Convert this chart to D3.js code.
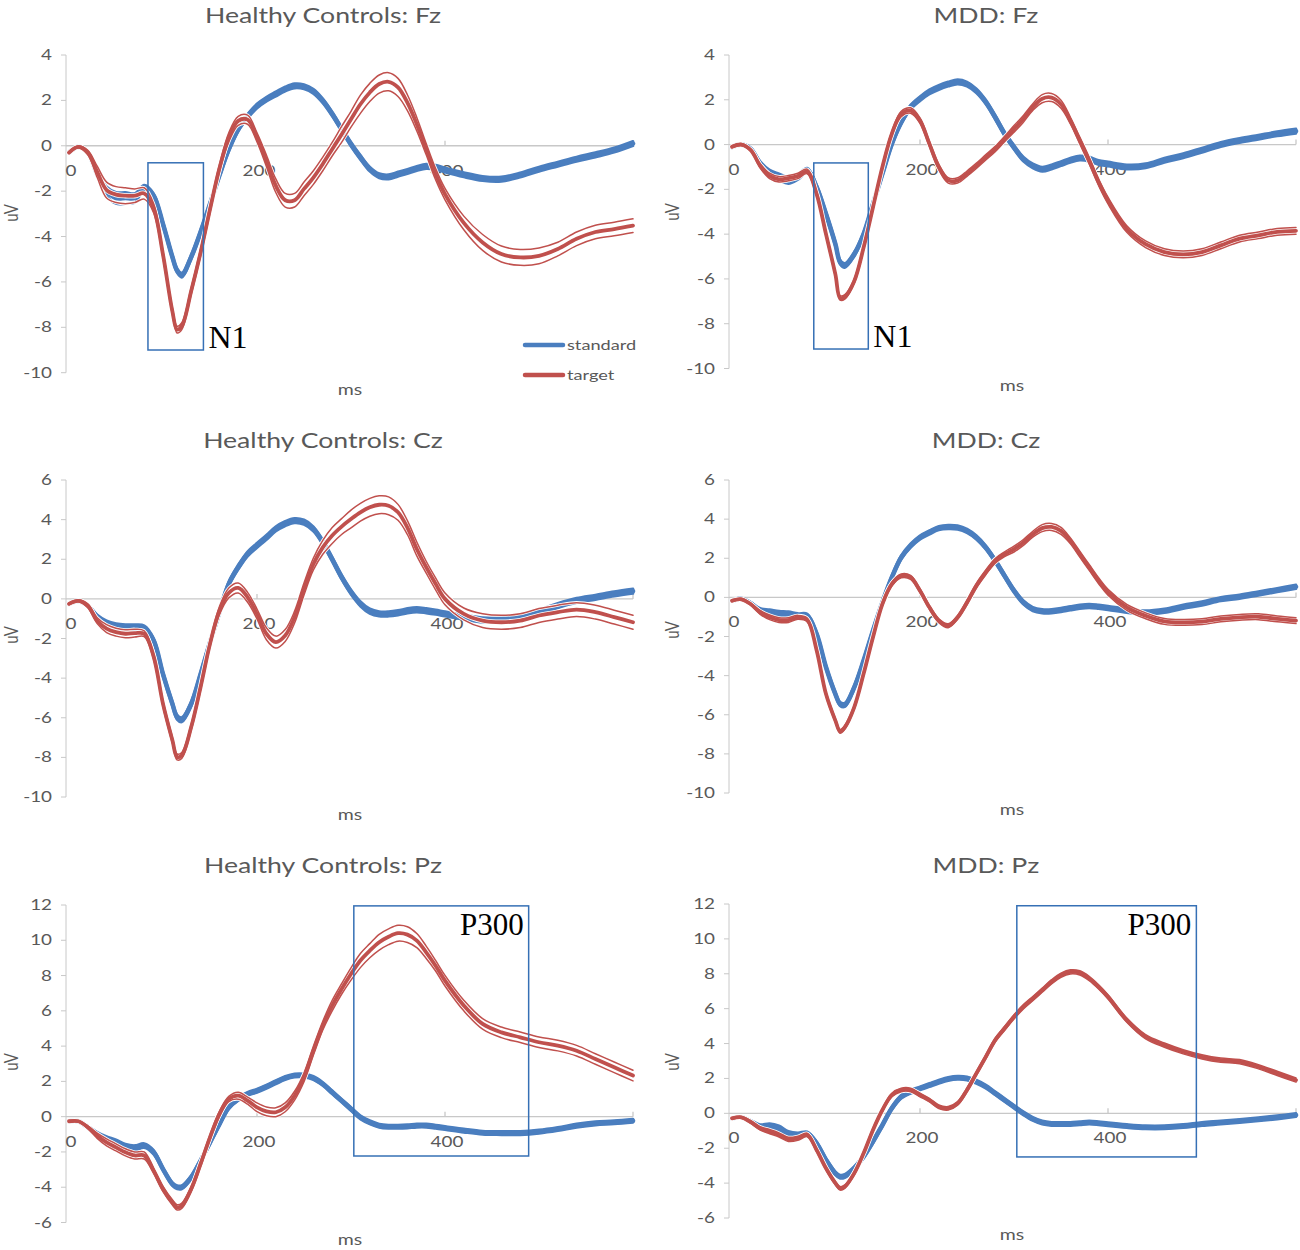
<!DOCTYPE html>
<html><head><meta charset="utf-8">
<script src="https://cdn.jsdelivr.net/npm/d3@7"></script>
<style>body{margin:0;background:#fff}</style>
</head><body><svg id="c" width="1300" height="1250"></svg>
<script>
// ---------- DATA ----------
const timeMs = [0,10,20,30,40,50,60,70,80,90,100,110,115,
  120,130,140,150,160,170,180,190,200,210,220,230,240,
  250,260,270,280,290,300,310,320,330,340,350,360,370,
  380,390,400,420,440,460,480,500,520,540,560,580,600];
const xTickLabels = [0,200,400];
const xTickMarks = [200,400,600];
const seriesNames = ["standard","target"];
const panelTitles = ["Healthy Controls: Fz","MDD: Fz","Healthy Controls: Cz","MDD: Cz","Healthy Controls: Pz","MDD: Pz"];
const yTicksFz = [4,2,0,-2,-4,-6,-8,-10];
const yTicksCz = [6,4,2,0,-2,-4,-6,-8,-10];
const yTicksPz = [12,10,8,6,4,2,0,-2,-4,-6];

// Healthy Controls Fz
const hcFzStd = [-0.3,-0.05,-0.3,-1.25,-2.0,-2.3,-2.3,-2.3,-1.85,-2.2,-3.45,-4.9,-5.5,
  -5.7,-4.9,-3.8,-2.57,-1.3,-0.15,0.73,1.3,1.75,2.05,2.28,2.5,2.64,
  2.6,2.4,1.98,1.4,0.73,0.07,-0.51,-1.03,-1.32,-1.37,-1.25,-1.13,-1.0,
  -0.91,-0.95,-1.07,-1.28,-1.44,-1.47,-1.29,-1.03,-0.81,-0.59,-0.4,-0.19,0.1];
const hcFzStdSe = [0.05,0.05,0.05,0.1,0.2,0.25,0.25,0.2,0.12,0.1,0.1,0.1,0.1,
  0.1,0.1,0.1,0.1,0.1,0.1,0.1,0.1,0.1,0.1,0.1,0.1,0.1,
  0.1,0.1,0.1,0.1,0.1,0.1,0.1,0.1,0.1,0.1,0.1,0.1,0.1,
  0.1,0.1,0.1,0.1,0.1,0.1,0.1,0.1,0.1,0.1,0.1,0.1,0.1];
const hcFzTgt = [-0.3,-0.05,-0.3,-1.15,-1.95,-2.15,-2.2,-2.2,-2.1,-2.75,-4.8,-7.3,-8.1,
  -7.95,-6.4,-4.7,-2.8,-1.0,0.37,1.1,1.15,0.37,-0.66,-1.76,-2.4,-2.4,
  -1.9,-1.4,-0.8,-0.15,0.5,1.17,1.83,2.35,2.72,2.82,2.57,1.9,0.95,
  -0.15,-1.25,-2.13,-3.4,-4.26,-4.77,-4.92,-4.85,-4.55,-4.1,-3.8,-3.67,-3.52];
const hcFzTgtSe = [0.05,0.05,0.1,0.25,0.35,0.35,0.35,0.3,0.25,0.2,0.15,0.15,0.15,
  0.15,0.15,0.15,0.15,0.15,0.2,0.2,0.2,0.2,0.25,0.3,0.3,0.3,
  0.3,0.3,0.3,0.3,0.35,0.35,0.4,0.4,0.4,0.4,0.4,0.35,0.3,
  0.25,0.25,0.25,0.3,0.35,0.35,0.35,0.35,0.3,0.3,0.3,0.3,0.3];

// MDD Fz
const mddFzStd = [-0.1,0.0,-0.2,-0.85,-1.25,-1.45,-1.6,-1.45,-1.15,-1.9,-3.1,-4.45,-5.25,
  -5.4,-4.9,-4.0,-2.65,-1.3,0.03,1.0,1.67,2.05,2.35,2.55,2.7,2.8,
  2.7,2.4,1.9,1.22,0.48,-0.12,-0.65,-0.95,-1.1,-1.0,-0.85,-0.7,-0.6,
  -0.65,-0.8,-0.87,-1.0,-0.95,-0.7,-0.5,-0.25,0.0,0.18,0.33,0.48,0.6];
const mddFzStdSe = [0.05,0.05,0.05,0.1,0.12,0.15,0.15,0.12,0.1,0.1,0.1,0.1,0.1,
  0.1,0.1,0.1,0.1,0.1,0.1,0.1,0.1,0.1,0.1,0.1,0.1,0.1,
  0.1,0.1,0.1,0.1,0.1,0.1,0.1,0.1,0.1,0.1,0.1,0.1,0.1,
  0.1,0.1,0.1,0.1,0.1,0.1,0.1,0.1,0.1,0.1,0.1,0.1,0.1];
const mddFzTgt = [-0.1,0.0,-0.25,-0.95,-1.4,-1.55,-1.5,-1.4,-1.2,-2.2,-4.0,-5.8,-6.85,
  -6.8,-6.1,-4.6,-2.8,-1.0,0.48,1.37,1.52,1.07,0.03,-1.0,-1.6,-1.6,
  -1.3,-0.95,-0.57,-0.2,0.25,0.7,1.15,1.67,2.05,2.1,1.8,1.07,0.18,
  -0.72,-1.68,-2.5,-3.77,-4.45,-4.8,-4.9,-4.8,-4.5,-4.2,-4.05,-3.9,-3.85];
const mddFzTgtSe = [0.05,0.05,0.05,0.1,0.12,0.12,0.12,0.12,0.1,0.1,0.1,0.1,0.1,
  0.1,0.1,0.1,0.1,0.1,0.1,0.12,0.12,0.12,0.12,0.12,0.12,0.12,
  0.12,0.12,0.12,0.12,0.12,0.15,0.15,0.15,0.18,0.18,0.18,0.15,0.15,
  0.15,0.15,0.15,0.15,0.15,0.15,0.15,0.15,0.15,0.15,0.15,0.15,0.15];

// Healthy Controls Cz
const hcCzStd = [-0.25,-0.1,-0.35,-0.9,-1.25,-1.4,-1.45,-1.45,-1.5,-2.1,-3.8,-5.3,-5.97,
  -6.1,-5.3,-3.8,-2.2,-0.67,0.76,1.6,2.27,2.7,3.1,3.53,3.8,3.95,
  3.87,3.53,2.86,2.0,1.1,0.34,-0.25,-0.62,-0.76,-0.76,-0.7,-0.6,-0.55,
  -0.6,-0.67,-0.76,-0.92,-1.06,-1.06,-0.9,-0.67,-0.34,-0.08,0.08,0.25,0.39];
const hcCzStdSe = [0.05,0.05,0.05,0.1,0.15,0.15,0.15,0.15,0.15,0.12,0.12,0.12,0.12,
  0.12,0.12,0.12,0.12,0.12,0.12,0.12,0.12,0.12,0.12,0.12,0.12,0.12,
  0.12,0.12,0.12,0.12,0.12,0.12,0.12,0.12,0.12,0.12,0.12,0.12,0.12,
  0.12,0.12,0.12,0.12,0.12,0.12,0.12,0.12,0.12,0.12,0.12,0.12,0.12];
const hcCzTgt = [-0.25,-0.1,-0.35,-1.1,-1.5,-1.68,-1.76,-1.73,-1.76,-2.9,-5.3,-7.14,-7.98,
  -7.9,-6.47,-4.45,-2.27,-0.6,0.3,0.55,0.08,-0.76,-1.76,-2.18,-1.85,-0.92,
  0.5,1.76,2.6,3.2,3.65,4.03,4.37,4.62,4.75,4.7,4.37,3.6,2.52,
  1.6,0.76,0.0,-0.76,-1.1,-1.18,-1.1,-0.84,-0.67,-0.54,-0.67,-0.92,-1.18];
const hcCzTgtSe = [0.05,0.05,0.1,0.15,0.2,0.2,0.2,0.2,0.15,0.15,0.15,0.15,0.15,
  0.15,0.15,0.15,0.15,0.2,0.25,0.25,0.25,0.25,0.3,0.3,0.3,0.3,
  0.3,0.3,0.35,0.4,0.4,0.45,0.45,0.45,0.45,0.45,0.4,0.35,0.35,
  0.3,0.3,0.3,0.3,0.35,0.35,0.35,0.35,0.35,0.35,0.35,0.35,0.35];

// MDD Cz
const mddCzStd = [-0.17,-0.08,-0.3,-0.68,-0.77,-0.85,-0.88,-0.94,-0.94,-1.87,-3.57,-4.94,-5.45,
  -5.5,-4.6,-3.23,-1.7,-0.26,1.02,2.04,2.64,3.06,3.32,3.54,3.6,3.57,
  3.4,3.06,2.55,1.87,1.1,0.34,-0.26,-0.6,-0.71,-0.71,-0.65,-0.56,-0.48,
  -0.44,-0.48,-0.54,-0.68,-0.77,-0.68,-0.48,-0.31,-0.09,0.03,0.2,0.37,0.54];
const mddCzStdSe = [0.05,0.05,0.05,0.12,0.15,0.15,0.15,0.12,0.1,0.1,0.1,0.1,0.1,
  0.1,0.1,0.1,0.1,0.1,0.1,0.1,0.1,0.1,0.1,0.1,0.1,0.1,
  0.1,0.1,0.1,0.1,0.1,0.1,0.1,0.1,0.1,0.1,0.1,0.1,0.1,
  0.1,0.1,0.1,0.1,0.1,0.1,0.1,0.1,0.1,0.1,0.1,0.1,0.1];
const mddCzTgt = [-0.17,-0.1,-0.35,-0.77,-1.02,-1.16,-1.16,-1.02,-1.15,-2.7,-4.94,-6.3,-6.85,
  -6.64,-5.62,-3.91,-2.04,-0.34,0.68,1.1,1.02,0.34,-0.51,-1.19,-1.45,-1.02,
  -0.26,0.6,1.28,1.87,2.21,2.47,2.81,3.23,3.54,3.6,3.4,2.89,2.21,
  1.53,0.85,0.26,-0.51,-0.94,-1.23,-1.28,-1.24,-1.1,-1.02,-0.99,-1.1,-1.19];
const mddCzTgtSe = [0.05,0.05,0.05,0.1,0.12,0.12,0.12,0.1,0.1,0.1,0.1,0.1,0.1,
  0.1,0.1,0.1,0.1,0.1,0.1,0.1,0.1,0.1,0.1,0.1,0.1,0.1,
  0.12,0.12,0.12,0.12,0.12,0.15,0.15,0.15,0.18,0.18,0.18,0.15,0.15,
  0.15,0.15,0.15,0.15,0.15,0.15,0.15,0.15,0.15,0.15,0.15,0.15,0.15];

// Healthy Controls Pz
const hcPzStd = [-0.26,-0.26,-0.6,-1.0,-1.27,-1.45,-1.7,-1.78,-1.64,-2.02,-2.97,-3.82,-4.0,
  -4.0,-3.44,-2.5,-1.46,-0.42,0.53,1.0,1.29,1.47,1.7,1.95,2.19,2.33,
  2.33,2.19,1.85,1.38,0.91,0.43,-0.04,-0.32,-0.51,-0.57,-0.57,-0.55,-0.51,
  -0.51,-0.57,-0.64,-0.79,-0.91,-0.93,-0.93,-0.85,-0.7,-0.51,-0.38,-0.32,-0.23];
const hcPzStdSe = [0.05,0.05,0.08,0.12,0.15,0.15,0.15,0.15,0.12,0.12,0.1,0.1,0.1,
  0.1,0.1,0.1,0.1,0.1,0.1,0.1,0.1,0.1,0.1,0.1,0.1,0.1,
  0.1,0.1,0.1,0.1,0.1,0.1,0.1,0.1,0.1,0.1,0.1,0.1,0.1,
  0.1,0.1,0.1,0.1,0.1,0.1,0.1,0.1,0.1,0.1,0.1,0.1,0.1];
const hcPzTgt = [-0.26,-0.26,-0.6,-1.08,-1.46,-1.74,-2.02,-2.2,-2.2,-3.06,-4.1,-4.86,-5.14,
  -5.05,-4.1,-2.68,-1.17,0.15,1.0,1.19,0.91,0.53,0.3,0.25,0.53,1.19,
  2.23,3.74,5.16,6.3,7.24,8.09,8.85,9.41,9.89,10.2,10.4,10.32,9.98,
  9.32,8.56,7.71,6.3,5.26,4.78,4.5,4.22,4.03,3.74,3.27,2.8,2.33];
const hcPzTgtSe = [0.05,0.05,0.08,0.15,0.2,0.2,0.2,0.2,0.2,0.15,0.15,0.15,0.15,
  0.15,0.15,0.15,0.15,0.15,0.15,0.2,0.2,0.25,0.25,0.25,0.25,0.25,
  0.25,0.25,0.25,0.3,0.3,0.35,0.4,0.4,0.45,0.45,0.45,0.45,0.4,
  0.35,0.3,0.3,0.3,0.3,0.3,0.3,0.3,0.3,0.3,0.3,0.3,0.3];

// MDD Pz
const mddPzStd = [-0.29,-0.23,-0.48,-0.76,-0.73,-0.86,-1.15,-1.24,-1.15,-1.72,-2.67,-3.44,-3.63,
  -3.59,-3.15,-2.48,-1.62,-0.67,0.29,0.95,1.24,1.43,1.62,1.81,1.97,2.04,
  2.0,1.81,1.53,1.15,0.76,0.38,0.0,-0.32,-0.53,-0.61,-0.61,-0.61,-0.57,
  -0.53,-0.57,-0.63,-0.73,-0.8,-0.8,-0.73,-0.61,-0.53,-0.44,-0.34,-0.23,-0.1];
const mddPzStdSe = [0.05,0.05,0.08,0.12,0.15,0.15,0.12,0.12,0.1,0.1,0.1,0.1,0.1,
  0.1,0.1,0.1,0.1,0.1,0.1,0.1,0.1,0.1,0.1,0.1,0.1,0.1,
  0.1,0.1,0.1,0.1,0.1,0.1,0.1,0.1,0.1,0.1,0.1,0.1,0.1,
  0.1,0.1,0.1,0.1,0.1,0.1,0.1,0.1,0.1,0.1,0.1,0.1,0.1];
const mddPzTgt = [-0.29,-0.23,-0.5,-0.86,-1.05,-1.24,-1.49,-1.43,-1.24,-2.1,-3.15,-4.0,-4.3,
  -4.2,-3.44,-2.29,-0.95,0.19,1.05,1.34,1.34,1.05,0.76,0.38,0.29,0.57,
  1.34,2.29,3.24,4.2,4.87,5.53,6.11,6.58,7.06,7.54,7.92,8.11,8.05,
  7.73,7.25,6.68,5.34,4.39,3.91,3.53,3.24,3.05,2.96,2.67,2.29,1.91];
const mddPzTgtSe = [0.05,0.05,0.08,0.1,0.12,0.12,0.12,0.12,0.1,0.1,0.1,0.1,0.1,
  0.1,0.1,0.1,0.1,0.1,0.1,0.1,0.1,0.1,0.1,0.1,0.1,0.1,
  0.12,0.12,0.12,0.12,0.12,0.12,0.12,0.12,0.12,0.12,0.12,0.12,0.12,
  0.12,0.12,0.12,0.12,0.12,0.12,0.12,0.12,0.12,0.12,0.12,0.12,0.12];

// Annotation boxes: [t start, t end, uV top, uV bottom]
const n1BoxHcFz = [84, 143, -0.75, -9.0];
const n1BoxMddFz = [87, 145, -0.82, -9.13];
const p300BoxHcPz = [303, 489, 11.95, -2.23];
const p300BoxMddPz = [303, 494, 11.9, -2.5];

// ---------- LAYOUT ----------
const BLUE = "#4A7EBF", RED = "#C0504D", GRID = "#C8C8C8", TXT = "#595959", BOX = "#3670B5";
const FONT = "Lato, 'Open Sans', sans-serif";
const SX = 1.3; // horizontal stretch of the original figure's text
const svg = d3.select("#c");

const cols = [
  {x0: 69, x1: 633, titleX: 323, msX: 350, uvX: 13},
  {x0: 732, x1: 1296, titleX: 986, msX: 1012, uvX: 674}
];
const panels = [
  {title: panelTitles[0], std: hcFzStd, stdSe: hcFzStdSe, tgt: hcFzTgt, tgtSe: hcFzTgtSe, yTicks: yTicksFz, col: 0, yTop: 55, yBot: 372.7, titleY: 23, msY: 395, uvY: 213, legend: true, box: n1BoxHcFz, boxLabel: "N1", lab: "br"},
  {title: panelTitles[1], std: mddFzStd, stdSe: mddFzStdSe, tgt: mddFzTgt, tgtSe: mddFzTgtSe, yTicks: yTicksFz, col: 1, yTop: 55, yBot: 368.5, titleY: 23, msY: 391, uvY: 212, box: n1BoxMddFz, boxLabel: "N1", lab: "br"},
  {title: panelTitles[2], std: hcCzStd, stdSe: hcCzStdSe, tgt: hcCzTgt, tgtSe: hcCzTgtSe, yTicks: yTicksCz, col: 0, yTop: 480, yBot: 797, titleY: 448, msY: 820, uvY: 635},
  {title: panelTitles[3], std: mddCzStd, stdSe: mddCzStdSe, tgt: mddCzTgt, tgtSe: mddCzTgtSe, yTicks: yTicksCz, col: 1, yTop: 480, yBot: 793, titleY: 448, msY: 815, uvY: 630},
  {title: panelTitles[4], std: hcPzStd, stdSe: hcPzStdSe, tgt: hcPzTgt, tgtSe: hcPzTgtSe, yTicks: yTicksPz, col: 0, yTop: 905, yBot: 1222.5, titleY: 873, msY: 1245, uvY: 1062, box: p300BoxHcPz, boxLabel: "P300", lab: "tr"},
  {title: panelTitles[5], std: mddPzStd, stdSe: mddPzStdSe, tgt: mddPzTgt, tgtSe: mddPzTgtSe, yTicks: yTicksPz, col: 1, yTop: 904, yBot: 1218, titleY: 873, msY: 1240, uvY: 1062, box: p300BoxMddPz, boxLabel: "P300", lab: "tr"}
];

function sText(g, x, y, txt, size, anchor, rotate) {
  return g.append("text")
    .attr("transform", `translate(${x},${y}) scale(${SX},1)` + (rotate ? ` rotate(${rotate})` : ""))
    .attr("text-anchor", anchor || "middle")
    .attr("font-family", FONT).attr("font-size", size).attr("fill", TXT)
    .text(txt);
}

panels.forEach(p => {
  const c = cols[p.col];
  const g = svg.append("g");
  const x = d3.scaleLinear().domain([0, 600]).range([c.x0, c.x1]);
  const y = d3.scaleLinear().domain([d3.max(p.yTicks), d3.min(p.yTicks)]).range([p.yTop, p.yBot]);
  const y0 = y(0);

  // y axis
  const ax = c.x0 - 3;
  g.append("line").attr("x1", ax).attr("x2", ax).attr("y1", y(d3.max(p.yTicks))).attr("y2", y(d3.min(p.yTicks)))
    .attr("stroke", GRID).attr("stroke-width", 1);
  p.yTicks.forEach(v => {
    g.append("line").attr("x1", ax - 5).attr("x2", ax).attr("y1", y(v)).attr("y2", y(v))
      .attr("stroke", GRID).attr("stroke-width", 1);
    sText(g, ax - 14, y(v) + 5, String(v), 14.5, "end");
  });
  // zero line (category axis)
  g.append("line").attr("x1", ax).attr("x2", c.x1).attr("y1", y0).attr("y2", y0)
    .attr("stroke", GRID).attr("stroke-width", 1.3);
  xTickMarks.forEach(t => {
    g.append("line").attr("x1", x(t)).attr("x2", x(t)).attr("y1", y0 - 5).attr("y2", y0)
      .attr("stroke", GRID).attr("stroke-width", 1.3);
  });
  xTickLabels.forEach(t => sText(g, x(t) + 2, y0 + 30, String(t), 14.5, "middle"));

  // texts
  sText(g, c.titleX, p.titleY, p.title, 20.5, "middle");
  sText(g, c.msX, p.msY, "ms", 15, "middle");
  sText(g, c.uvX + 5, p.uvY, "uV", 15, "middle", -90);

  // series
  const line = d3.line().x(d => x(d[0])).y(d => y(d[1])).curve(d3.curveCatmullRom.alpha(0.5));
  const mk = (vals, se, sign) => timeMs.map((t, i) => [t, vals[i] + sign * se[i]]);
  // standard (blue)
  [[-1, 2.6], [1, 2.6], [0, 4.6]].forEach(([s, w]) => {
    g.append("path").attr("d", line(mk(p.std, p.stdSe, s))).attr("fill", "none")
      .attr("stroke", BLUE).attr("stroke-width", w).attr("stroke-linejoin", "round").attr("stroke-linecap", "round");
  });
  // target (red) with thin white casing
  const redSet = [[-1, 1.5], [1, 1.5], [0, 3.8]];
  redSet.forEach(([s, w]) => {
    g.append("path").attr("d", line(mk(p.tgt, p.tgtSe, s))).attr("fill", "none")
      .attr("stroke", "#fff").attr("stroke-width", w + 1.6).attr("stroke-linejoin", "round").attr("stroke-linecap", "round");
  });
  redSet.forEach(([s, w]) => {
    g.append("path").attr("d", line(mk(p.tgt, p.tgtSe, s))).attr("fill", "none")
      .attr("stroke", RED).attr("stroke-width", w).attr("stroke-linejoin", "round").attr("stroke-linecap", "round");
  });

  // annotation box
  if (p.box) {
    const [t0, t1, vTop, vBot] = p.box;
    g.append("rect").attr("x", x(t0)).attr("y", y(vTop)).attr("width", x(t1) - x(t0)).attr("height", y(vBot) - y(vTop))
      .attr("fill", "none").attr("stroke", BOX).attr("stroke-width", 1.5);
    const lt = g.append("text").attr("font-family", "'Liberation Serif', 'Times New Roman', serif")
      .attr("font-size", p.lab === "br" ? 32 : 31).attr("fill", "#000").text(p.boxLabel);
    if (p.lab === "br") lt.attr("x", x(t1) + 5).attr("y", y(vBot) - 2);
    else lt.attr("x", x(t1) - 5).attr("y", y(vTop) + 29).attr("text-anchor", "end");
  }

  // legend
  if (p.legend) {
    const items = [[seriesNames[0], BLUE, 345], [seriesNames[1], RED, 375]];
    items.forEach(([name, col, ly]) => {
      g.append("line").attr("x1", 525).attr("x2", 563).attr("y1", ly).attr("y2", ly)
        .attr("stroke", col).attr("stroke-width", 4.5).attr("stroke-linecap", "round");
      sText(g, 567, ly + 5, name, 14, "start");
    });
  }
});
</script>
</body></html>
